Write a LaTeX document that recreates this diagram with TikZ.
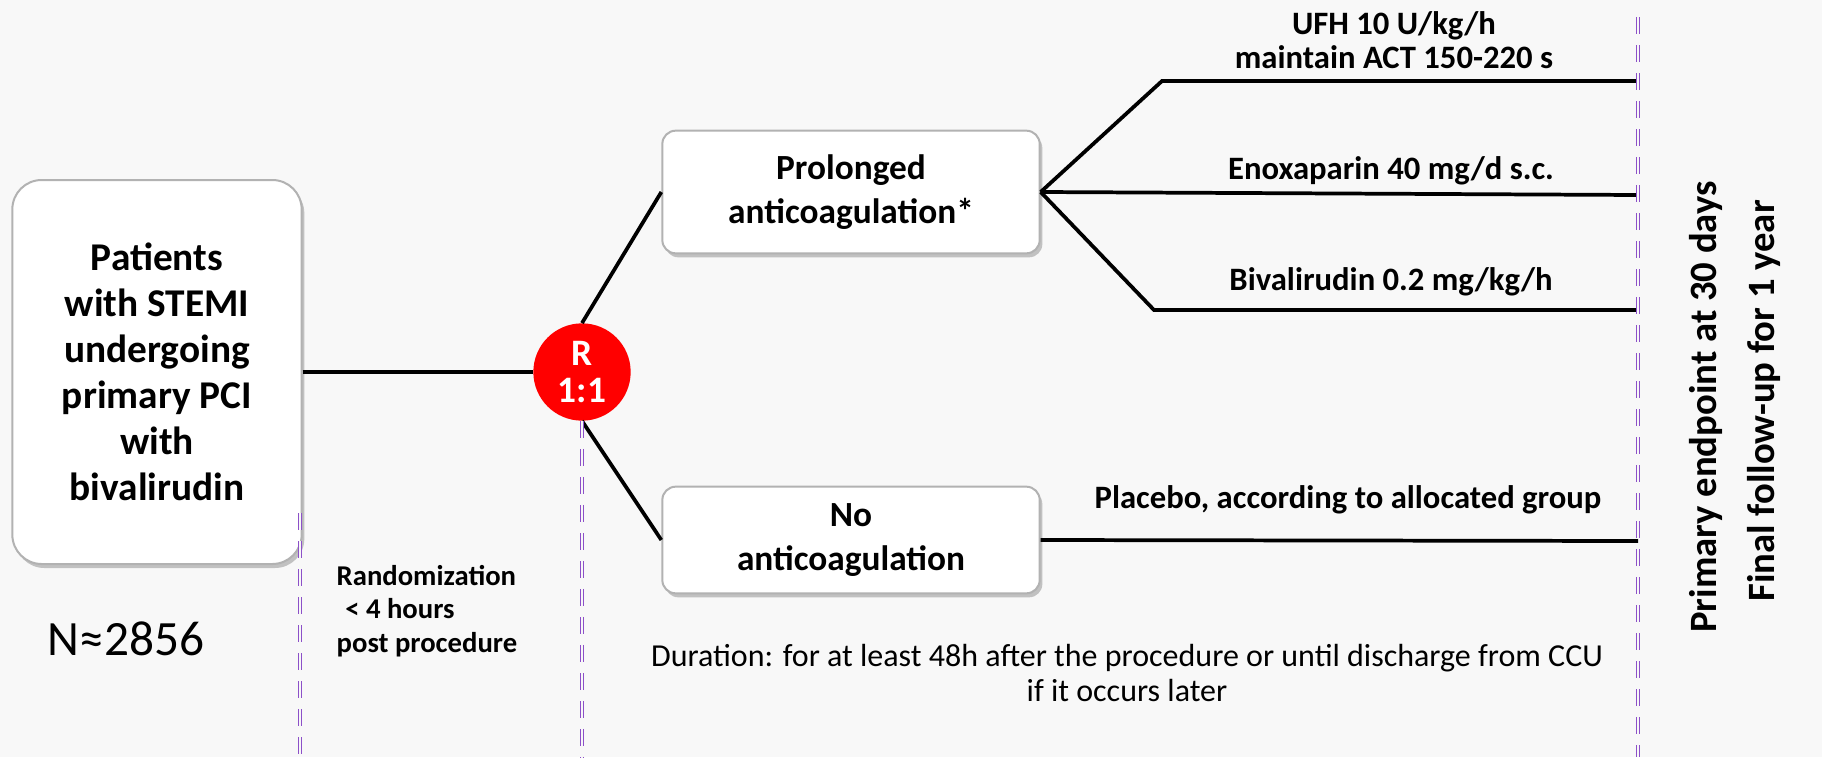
\documentclass[tikz,border=0pt]{standalone}
\usepackage{fontspec}
\setmainfont{Carlito}
\usetikzlibrary{positioning,shadows}
\definecolor{bggray}{RGB}{248,248,248}
\definecolor{dashviolet}{RGB}{140,80,200}
\definecolor{randred}{RGB}{255,0,0}

\begin{document}
\begin{tikzpicture}[
  x=0.75pt, y=-0.75pt,
  ptbox/.style={draw=gray!60, line width=1.5pt, fill=white, rounded corners=22pt,
                align=center, minimum width=217pt, minimum height=288pt,
                font=\fontsize{29.5}{34.5}\bfseries\selectfont,
                drop shadow={shadow xshift=2pt, shadow yshift=-3pt, opacity=0.45}},
  armbox/.style={draw=gray!60, line width=1.5pt, fill=white, rounded corners=10pt,
                 align=center, minimum width=283pt,
                 font=\fontsize{26.5}{33}\bfseries\selectfont,
                 drop shadow={shadow xshift=2pt, shadow yshift=-3pt, opacity=0.45}},
  randnode/.style={circle, fill=randred, text=white, minimum size=73pt, inner sep=0pt,
                   align=center, font=\fontsize{28}{28}\bfseries\selectfont},
  lbl/.style={align=center, font=\fontsize{24.5}{26}\bfseries\selectfont},
  link/.style={line width=2.8pt, black},
  vline/.style={draw=dashviolet, double=bggray, double distance=1.5pt, line width=1.1pt,
                dash pattern=on 12.75pt off 8.25pt}
]
\fill[bggray] (0,0) rectangle (1822,757);
\useasboundingbox (0,0) rectangle (1822,757);

% boxes and randomisation
\node[ptbox] (pts) at (157,372)
  {Patients\\with STEMI\\undergoing\\primary PCI\\with\\bivalirudin};
\node[randnode] (rand) at (582,372) {R\\1:1};
\node[armbox, minimum height=92pt] (prol) at (851,192)
  {Prolonged\\anticoagulation*};
\node[armbox, minimum height=80pt] (noac) at (851,540)
  {No\\anticoagulation};

% ends of the arms
\coordinate (ufhk) at (1162,81);
\coordinate (ufhe) at (1638,81);
\coordinate (enoxe) at (1638,195);
\coordinate (bivk) at (1154,310);
\coordinate (bive) at (1638,310);
\coordinate (placee) at (1638,541);

\draw[link] (pts.east) -- (rand.west);
\draw[link] (rand.north) -- (prol.west);
\draw[link] (rand.south) -- (noac.west);
\draw[link] (prol.east) -- (ufhk) -- (ufhe);
\draw[link] (prol.east) -- (enoxe);
\draw[link] (prol.east) -- (bivk) -- (bive);
\draw[link] (noac.east) -- (placee);

% time marks
\coordinate (rtop) at (300,513);
\coordinate (rbot) at (300,757);
\coordinate (abot) at (582,757);
\coordinate (etop) at (1638,17);
\coordinate (ebot) at (1638,757);
\draw[vline] (rtop) -- (rbot);
\draw[vline] (rand.south) -- (abot);
\draw[vline] (etop) -- (ebot);

% labels
\node[lbl] (ufh) at (1394,40) {UFH 10 U/kg/h\\maintain ACT 150-220 s};
\node[lbl] (enox) at (1391,171) {Enoxaparin 40 mg/d s.c.};
\node[lbl] (biv) at (1391,282) {Bivalirudin 0.2 mg/kg/h};
\node[lbl] (plac) at (1348,500) {Placebo, according to allocated group};
\node[align=center, font=\fontsize{24}{26}\selectfont] (dur) at (1127,673)
  {Duration: for at least 48h after the procedure or until discharge from CCU\\if it occurs later};
\node[align=left, anchor=west, font=\fontsize{21.5}{25}\bfseries\selectfont] (rtime) at (332,611)
  {Randomization\\\hspace{0.3em}< 4 hours\\post procedure};
\node[font=\fontsize{37}{40}\selectfont] (num) at (126,639) {N≈2856};
\node[rotate=90, font=\fontsize{29}{30}\bfseries\selectfont] (prim) at (1706,407)
  {Primary endpoint at 30 days};
\node[rotate=90, font=\fontsize{29}{30}\bfseries\selectfont] (fup) at (1764,401)
  {Final follow-up for 1 year};
\end{tikzpicture}
\end{document}
